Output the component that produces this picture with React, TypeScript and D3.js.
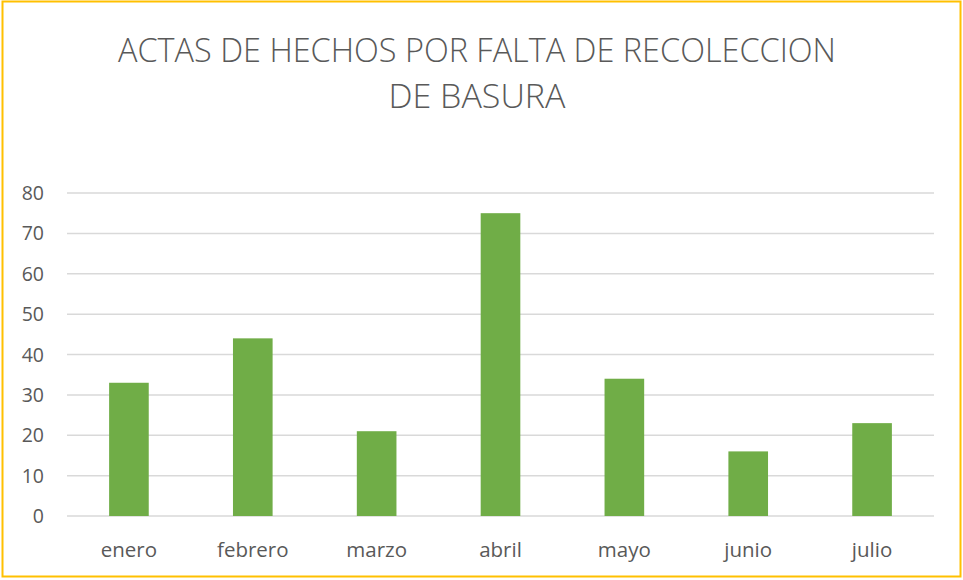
import React, { useEffect, useRef } from 'react'
import * as d3 from 'd3'

const months = ['enero', 'febrero', 'marzo', 'abril', 'mayo', 'junio', 'julio']
const actas = [33, 44, 21, 75, 34, 16, 23]
const yTicks = [0, 10, 20, 30, 40, 50, 60, 70, 80]
const titleLines = ['ACTAS DE HECHOS POR FALTA DE RECOLECCION', 'DE BASURA']

const W = 963
const H = 580

function drawChart(el: SVGSVGElement) {
    const svg = d3.select(el)
    svg.selectAll('*').remove()

    // outer frame
    svg.append('rect')
        .attr('x', 2.5).attr('y', 1.5)
        .attr('width', 958).attr('height', 575)
        .attr('fill', '#fff')
        .attr('stroke', '#FFC000')
        .attr('stroke-width', 2)

    const left = 67, right = 934, top = 193, bottom = 516

    const x = d3.scaleBand().domain(months).range([left, right]).paddingInner(0.68).paddingOuter(0.34)
    const y = d3.scaleLinear().domain([0, 80]).range([bottom, top])

    // gridlines
    svg.append('g').selectAll('line')
        .data(yTicks)
        .enter()
        .append('line')
        .attr('x1', left).attr('x2', right)
        .attr('y1', d => y(d)).attr('y2', d => y(d))
        .attr('stroke', '#D9D9D9')
        .attr('stroke-width', 1.5)

    // y labels
    svg.append('g').selectAll('text')
        .data(yTicks)
        .enter()
        .append('text')
        .attr('x', 44)
        .attr('y', d => y(d) + 7)
        .attr('text-anchor', 'end')
        .attr('font-family', 'Open Sans')
        .attr('font-size', 19.5)
        .attr('fill', '#595959')
        .text(d => d)

    // bars
    svg.append('g').selectAll('rect')
        .data(actas)
        .enter()
        .append('rect')
        .attr('x', (d, i) => x(months[i])!)
        .attr('width', x.bandwidth())
        .attr('y', d => y(d))
        .attr('height', d => bottom - y(d))
        .attr('fill', '#70AD47')

    // x labels
    svg.append('g').selectAll('text')
        .data(months)
        .enter()
        .append('text')
        .attr('x', d => x(d)! + x.bandwidth() / 2)
        .attr('y', 557)
        .attr('text-anchor', 'middle')
        .attr('font-family', 'Open Sans')
        .attr('font-size', 20.5)
        .attr('fill', '#595959')
        .text(d => d)

    // title (light weight, stretched to the reference width)
    const lens = [718, 177]
    svg.append('g').selectAll('text')
        .data(titleLines)
        .enter()
        .append('text')
        .attr('x', 477)
        .attr('y', (d, i) => 62 + i * 46)
        .attr('text-anchor', 'middle')
        .attr('font-family', 'Open Sans')
        .attr('font-weight', 300)
        .attr('font-size', 33)
        .attr('fill', '#595959')
        .attr('textLength', (d, i) => lens[i])
        .attr('lengthAdjust', 'spacingAndGlyphs')
        .text(d => d)
}

const App = () => {
    const ref = useRef<SVGSVGElement>(null)
    useEffect(() => {
        if (ref.current) drawChart(ref.current)
    }, [])

    return (
        <svg ref={ref} width={W} height={H} style={{ position: 'absolute', left: 0, top: 0, display: 'block' }} />
    )
}

export default App
